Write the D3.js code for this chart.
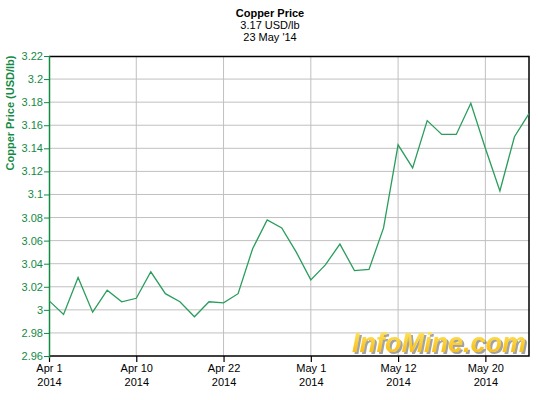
<!DOCTYPE html>
<html>
<head>
<meta charset="utf-8">
<script src="https://cdn.jsdelivr.net/npm/d3@7"></script>
<style>
  body { margin: 0; background: #fff; }
  svg { display: block; font-family: "Liberation Sans", Arial, sans-serif; }
</style>
</head>
<body>
<div id="chart"></div>
<script>
// Trading days shown on the chart
const dates = [
  "2014-04-01", "2014-04-02", "2014-04-03", "2014-04-04", "2014-04-07", "2014-04-09", "2014-04-10",
  "2014-04-11", "2014-04-14", "2014-04-15", "2014-04-16", "2014-04-17", "2014-04-22",
  "2014-04-23", "2014-04-24", "2014-04-25", "2014-04-28", "2014-04-30", "2014-05-01",
  "2014-05-02", "2014-05-06", "2014-05-07", "2014-05-08", "2014-05-09", "2014-05-12",
  "2014-05-13", "2014-05-14", "2014-05-15", "2014-05-16", "2014-05-19", "2014-05-20",
  "2014-05-21", "2014-05-22", "2014-05-23"
];

// Copper price, USD/lb
const prices = [
  3.008, 2.996, 3.028, 2.998, 3.017, 3.007, 3.010,
  3.033, 3.014, 3.007, 2.994, 3.007, 3.006,
  3.014, 3.053, 3.078, 3.071, 3.050, 3.026,
  3.039, 3.057, 3.034, 3.035, 3.071, 3.143,
  3.123, 3.164, 3.152, 3.152, 3.179, 3.140,
  3.103, 3.150, 3.170
];

const xTickDates = ["2014-04-01", "2014-04-10", "2014-04-22", "2014-05-01", "2014-05-12", "2014-05-20"];
const xTickLabels = [["Apr 1", "2014"], ["Apr 10", "2014"], ["Apr 22", "2014"], ["May 1", "2014"], ["May 12", "2014"], ["May 20", "2014"]];
const yTicks = [2.96, 2.98, 3, 3.02, 3.04, 3.06, 3.08, 3.1, 3.12, 3.14, 3.16, 3.18, 3.2, 3.22];

const titleLines = ["Copper Price", "3.17 USD/lb", "23 May '14"];

const W = 538, H = 400;
const margin = { top: 56, right: 9, bottom: 44, left: 49 };
const width = W - margin.left - margin.right;
const height = H - margin.top - margin.bottom;

const green = "#138a43";
const lineGreen = "#2a9d5c";

const svg = d3.select("#chart").append("svg")
  .attr("width", W)
  .attr("height", H);

// Title block
svg.append("g")
  .selectAll("text")
  .data(titleLines)
  .join("text")
  .attr("x", 270)
  .attr("y", (d, i) => 17 + i * 12)
  .attr("text-anchor", "middle")
  .style("font-size", "11px")
  .style("font-weight", (d, i) => i === 0 ? "bold" : "normal")
  .style("fill", "#000")
  .text(d => d);

const g = svg.append("g").attr("transform", `translate(${margin.left},${margin.top})`);

const x = d3.scalePoint().domain(dates).range([0, width]);
const y = d3.scaleLinear().domain([2.96, 3.22]).range([height, 0]);

// Grid lines
g.append("g")
  .selectAll("line")
  .data(yTicks.slice(1, -1))
  .join("line")
  .attr("x1", 0).attr("x2", width)
  .attr("y1", d => y(d)).attr("y2", d => y(d))
  .attr("stroke", "#c0c0c0")
  .attr("stroke-width", 1);

g.append("g")
  .selectAll("line")
  .data(xTickDates.slice(1))
  .join("line")
  .attr("x1", d => x(d)).attr("x2", d => x(d))
  .attr("y1", 0).attr("y2", height)
  .attr("stroke", "#c0c0c0")
  .attr("stroke-width", 1);

// Frame (top, right, bottom)
g.append("path")
  .attr("d", `M0,0.5H${width}V${height}H0`)
  .attr("fill", "none")
  .attr("stroke", "#000")
  .attr("stroke-width", 1.5);

// Bottom axis
const xAxis = g.append("g")
  .attr("transform", `translate(0,${height})`)
  .call(d3.axisBottom(x).tickValues(xTickDates).tickSize(6).tickSizeOuter(0).tickFormat(""));
xAxis.select(".domain").remove();
xAxis.selectAll(".tick line").attr("stroke", "#000").attr("stroke-width", 1.2);
xAxis.selectAll(".tick").each(function (d) {
  const lbl = xTickLabels[xTickDates.indexOf(d)];
  const t = d3.select(this).append("text")
    .attr("fill", "#000")
    .attr("text-anchor", "middle")
    .style("font-size", "11px");
  lbl.forEach((s, i) => {
    t.append("tspan").attr("x", 0).attr("y", 16 + i * 14).text(s);
  });
});

// Left axis
const yAxis = g.append("g")
  .call(d3.axisLeft(y).tickValues(yTicks).tickSize(5).tickSizeOuter(0).tickFormat(d3.format("")));
yAxis.select(".domain").attr("stroke", green).attr("stroke-width", 1.5).attr("d", `M0.5,0V${height + 2}`);
yAxis.selectAll(".tick line").attr("stroke", green);
yAxis.selectAll(".tick text")
  .attr("fill", green)
  .attr("x", -6)
  .style("font-size", "11px")
  .style("font-family", "'Liberation Sans', Arial, sans-serif");

// Y axis title
svg.append("text")
  .attr("transform", `translate(14,113) rotate(-90)`)
  .attr("text-anchor", "middle")
  .style("font-size", "11px")
  .style("font-weight", "bold")
  .style("fill", green)
  .text("Copper Price (USD/lb)");

// Watermark
const defs = svg.append("defs");
const grad = defs.append("linearGradient")
  .attr("id", "wm").attr("x1", 0).attr("y1", 0).attr("x2", 0).attr("y2", 1);
grad.append("stop").attr("offset", "0%").attr("stop-color", "#ffe866");
grad.append("stop").attr("offset", "100%").attr("stop-color", "#f7b500");

const shadow = defs.append("filter").attr("id", "wmShadow")
  .attr("x", "-10%").attr("y", "-20%").attr("width", "130%").attr("height", "150%");
shadow.append("feDropShadow")
  .attr("dx", 2).attr("dy", 2).attr("stdDeviation", 0.6)
  .attr("flood-color", "#8a8a8a").attr("flood-opacity", 0.8);

svg.append("text")
  .attr("x", 439).attr("y", 352)
  .attr("text-anchor", "middle")
  .attr("filter", "url(#wmShadow)")
  .style("font-size", "27px")
  .style("font-weight", "bold")
  .style("font-style", "italic")
  .style("fill", "url(#wm)")
  .text("InfoMine.com");

// Price line
const line = d3.line()
  .x((d, i) => x(dates[i]))
  .y(d => y(d));

g.append("path")
  .datum(prices)
  .attr("fill", "none")
  .attr("stroke", lineGreen)
  .attr("stroke-width", 1.3)
  .attr("d", line);
</script>
</body>
</html>
